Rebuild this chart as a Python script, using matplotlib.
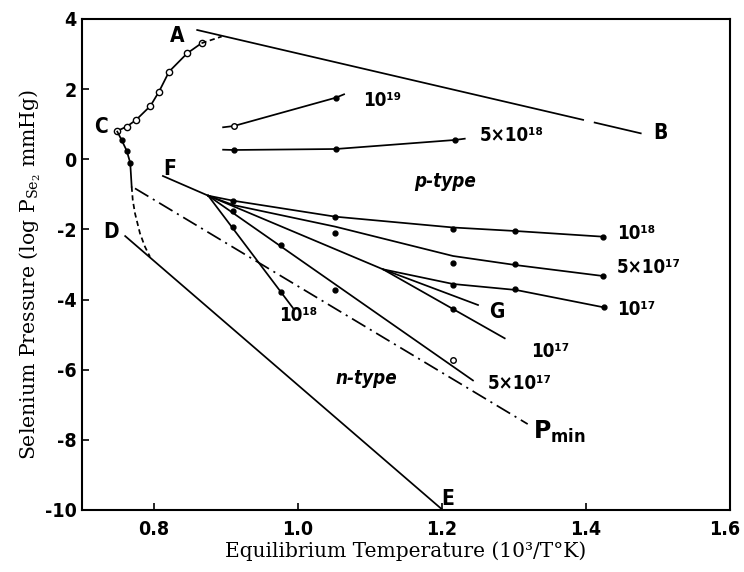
import matplotlib.pyplot as plt
import matplotlib.transforms as mtransforms

## data (x = 10^3/T, y = log P)

# curve C -> A, open circles, dashed near A
ca_x = [0.749, 0.762, 0.775, 0.795, 0.807, 0.821, 0.846, 0.866]
ca_y = [0.81, 0.93, 1.12, 1.52, 1.93, 2.50, 3.02, 3.31]
ca_tail_x = [0.866, 0.894]
ca_tail_y = [3.31, 3.50]

# curve C -> D, filled dots, dashed lower part
cd_x = [0.749, 0.755, 0.762, 0.767, 0.769]
cd_y = [0.79, 0.55, 0.25, -0.10, -0.78]
cd_tail_x = [0.769, 0.7705, 0.7736, 0.7805, 0.7874, 0.7944]
cd_tail_y = [-0.78, -1.16, -1.54, -2.11, -2.49, -2.78]

# line A - B (broken near 1.4)
ab_x = [0.860, 1.396, 1.412, 1.476]
ab_y = [3.686, 1.124, 1.047, 0.74]

# line D - E
de_x = [0.760, 1.201]
de_y = [-2.19, -10.0]

# P_min (dash-dot)
pmin_x = [0.7736, 1.319]
pmin_y = [-0.83, -7.55]

# p-type 1e19 and 5e18
p19_x = [0.896, 0.911, 1.0525, 1.064]
p19_y = [0.912, 0.949, 1.756, 1.853]
p5e18_x = [0.896, 0.911, 1.0525, 1.2177, 1.2316]
p5e18_y = [0.273, 0.265, 0.293, 0.55, 0.587]
p5e18_dot_x = [0.911, 1.0525, 1.2177]
p5e18_dot_y = [0.265, 0.293, 0.55]

# line F
f_x = [0.8124, 0.8753]
f_y = [-0.477, -1.038]

# fan of lines starting at the end of F
p18_x = [0.8753, 0.910, 1.052, 1.2154, 1.302, 1.4235]
p18_y = [-1.038, -1.181, -1.637, -1.945, -2.045, -2.207]
p18_dot_x = [0.910, 1.052, 1.2154, 1.302, 1.4235]
p18_dot_y = [-1.181, -1.637, -1.997, -2.036, -2.207]

p5e17_x = [0.8753, 0.910, 1.052, 1.2154, 1.302, 1.4235]
p5e17_y = [-1.038, -1.304, -1.922, -2.758, -3.015, -3.328]
p5e17_dot_x = [0.910, 1.052, 1.2154, 1.302, 1.4235]
p5e17_dot_y = [-1.475, -2.111, -2.949, -2.986, -3.328]

p17_x = [0.8753, 1.118, 1.2154, 1.303, 1.4245]
p17_y = [-1.038, -3.137, -3.556, -3.727, -4.221]
p17_dot_x = [1.2154, 1.302, 1.4245]
p17_dot_y = [-3.585, -3.707, -4.221]

g_x = [1.118, 1.250]
g_y = [-3.137, -4.155]

n17_x = [1.118, 1.2871]
n17_y = [-3.137, -5.105]
n17_dot_x = [1.2154]
n17_dot_y = [-4.277]

n5e17_x = [0.8753, 1.243]
n5e17_y = [-1.038, -6.306]
n5e17_dot_x = [0.977, 1.052]
n5e17_dot_y = [-2.444, -3.727]
n5e17_open_x = [1.2154]
n5e17_open_y = [-5.723]

n18_x = [0.8753, 0.9933]
n18_y = [-1.038, -4.249]
n18_dot_x = [0.910, 0.977]
n18_dot_y = [-1.922, -3.793]

xticks = [0.8, 1.0, 1.2, 1.4, 1.6]
xtick_labels = ['0.8', '1.0', '1.2', '1.4', '1.6']
yticks = [4, 2, 0, -2, -4, -6, -8, -10]
ytick_labels = ['4', '2', '0', '-2', '-4', '-6', '-8', '-10']

## plot ##

plt.rcParams['mathtext.fontset'] = 'custom'
plt.rcParams['mathtext.rm'] = 'DejaVu Serif'
plt.rcParams['mathtext.bf'] = 'DejaVu Sans:bold'
lab_font = ['DejaVu Sans']
lw = 1.25

fig = plt.figure(figsize=(7.44, 5.72), dpi=100)
ax = fig.add_axes([0.1102, 0.1084, 0.871, 0.8584])

ax.plot(ca_x, ca_y, '-o', color='k', lw=lw, ms=4.5, mfc='white', mew=1.0)
ax.plot(ca_tail_x, ca_tail_y, '--', color='k', lw=lw, dashes=(3, 2))
ax.plot(cd_x[1:4], cd_y[1:4], 'o', color='k', ms=3.5)
ax.plot(cd_x, cd_y, '-', color='k', lw=lw)
ax.plot(cd_tail_x, cd_tail_y, '--', color='k', lw=lw, dashes=(3, 2))

ax.plot(ab_x[:2], ab_y[:2], '-', color='k', lw=lw)
ax.plot(ab_x[2:], ab_y[2:], '-', color='k', lw=lw)
ax.plot(de_x, de_y, '-', color='k', lw=lw)
ax.plot(pmin_x, pmin_y, color='k', lw=lw, linestyle=(0, (9, 3, 1.2, 3)))

ax.plot(p19_x, p19_y, '-', color='k', lw=lw)
ax.plot(p19_x[1:2], p19_y[1:2], 'o', color='k', ms=4, mfc='white', mew=1.0)
ax.plot(p19_x[2:3], p19_y[2:3], 'o', color='k', ms=3.5)
ax.plot(p5e18_x, p5e18_y, '-', color='k', lw=lw)
ax.plot(p5e18_dot_x, p5e18_dot_y, 'o', color='k', ms=3.5)

ax.plot(f_x, f_y, '-', color='k', lw=lw)
ax.plot(p18_x, p18_y, '-', color='k', lw=lw)
ax.plot(p18_dot_x, p18_dot_y, 'o', color='k', ms=3.5)
ax.plot(p5e17_x, p5e17_y, '-', color='k', lw=lw)
ax.plot(p5e17_dot_x, p5e17_dot_y, 'o', color='k', ms=3.5)
ax.plot(p17_x, p17_y, '-', color='k', lw=lw)
ax.plot(p17_dot_x, p17_dot_y, 'o', color='k', ms=3.5)
ax.plot(g_x, g_y, '-', color='k', lw=lw)
ax.plot(n17_x, n17_y, '-', color='k', lw=lw)
ax.plot(n17_dot_x, n17_dot_y, 'o', color='k', ms=3.5)
ax.plot(n5e17_x, n5e17_y, '-', color='k', lw=lw)
ax.plot(n5e17_dot_x, n5e17_dot_y, 'o', color='k', ms=3.5)
ax.plot(n5e17_open_x, n5e17_open_y, 'o', color='k', ms=4, mfc='white', mew=1.0)
ax.plot(n18_x, n18_y, '-', color='k', lw=lw)
ax.plot(n18_dot_x, n18_dot_y, 'o', color='k', ms=3.5)

# labels
def lab(x, y, s, size=14, ha='left', style='normal'):
    ax.text(x, y, s, family=lab_font, weight='bold', fontsize=size,
            ha=ha, va='center', style=style, stretch='condensed')

lab(0.8325, 3.515, 'A', size=15, ha='center')
lab(1.503, 0.74, 'B', size=15, ha='center')
lab(0.726, 0.93, 'C', size=15, ha='center')
lab(0.741, -2.065, 'D', size=15, ha='center')
lab(1.2085, -9.68, 'E', size=15, ha='center')
lab(0.822, -0.29, 'F', size=15, ha='center')
lab(1.2756, -4.35, 'G', size=15, ha='center')
lab(1.090, 1.69, '10¹⁹', size=13.5)
lab(1.252, 0.69, '5×10¹⁸', size=13.5)
lab(1.162, -0.64, 'p-type', size=13.5, style='italic')
lab(1.052, -6.24, 'n-type', size=13.5, style='italic')
lab(1.443, -2.13, '10¹⁸', size=13.5)
lab(1.443, -3.10, '5×10¹⁷', size=13.5)
lab(1.443, -4.28, '10¹⁷', size=13.5)
lab(0.9996, -4.46, '10¹⁸', size=13.5, ha='center')
lab(1.324, -5.49, '10¹⁷', size=13.5)
lab(1.264, -6.39, '5×10¹⁷', size=13.5)
lab(1.326, -7.78, r'$\mathbf{P_{min}}$', size=17)

ax.set_xlim(0.7, 1.6)
ax.set_ylim(-10, 4)
ax.set_xticks(xticks)
ax.set_xticklabels(xtick_labels, family=lab_font, weight='bold', fontsize=14,
                   stretch='condensed')
ax.set_yticks(yticks)
ax.set_yticklabels(ytick_labels, family=lab_font, weight='bold', fontsize=14,
                   stretch='condensed')
ax.tick_params(direction='in', length=5, width=1.2)
ax.tick_params(axis='x', pad=7)
ax.tick_params(axis='y', pad=4)
for s in ax.spines.values():
    s.set_linewidth(1.5)

# keep the last x tick label inside the figure
last = ax.get_xticklabels()[-1]
last.set_transform(last.get_transform() +
                   mtransforms.ScaledTranslation(-4 / 72, 0, fig.dpi_scale_trans))

ax.set_xlabel('Equilibrium Temperature (10³/T°K)', family='DejaVu Serif', fontsize=14.5)
ax.set_ylabel(r'Selenium Pressure (log P$_{\mathrm{Se}_2}$ mmHg)', family='DejaVu Serif', fontsize=14.7)
ax.xaxis.set_label_coords(0.5, -0.064)
ax.yaxis.set_label_coords(-0.06, 0.479)

fig.savefig('out.png', dpi=100)
